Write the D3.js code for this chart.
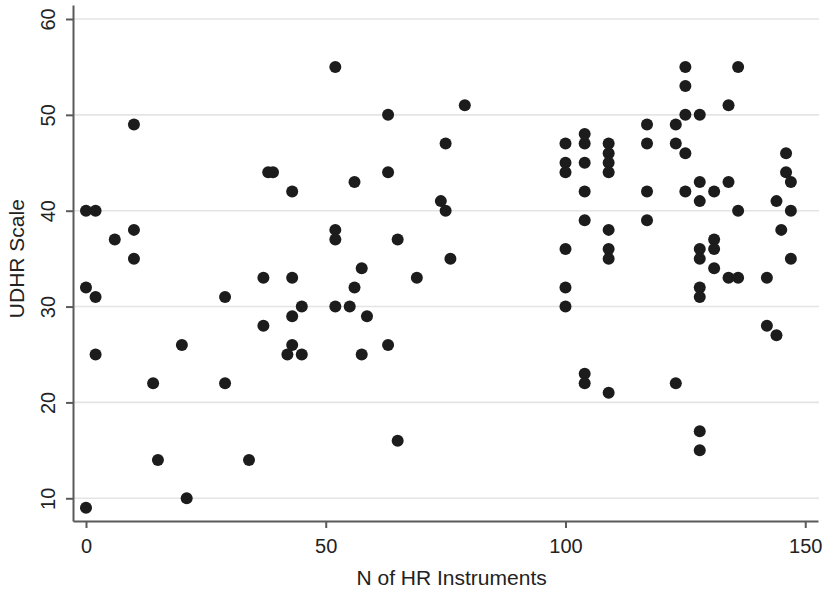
<!DOCTYPE html>
<html>
<head>
<meta charset="utf-8">
<script src="https://cdn.jsdelivr.net/npm/d3@7"></script>
<style>
  html, body { margin: 0; padding: 0; background: #fff; }
  svg { display: block; }
  text { font-family: "Liberation Sans", Arial, sans-serif; fill: #222; }
</style>
</head>
<body>
<script>
// N of HR Instruments (x) and UDHR Scale (y)
const hrInstruments = [
  0, 2, 10, 6, 10, 10, 0, 2, 2, 0,
  14, 15, 20, 21, 29, 29, 34,
  37, 37, 38, 39, 43, 43, 43, 43, 42, 45, 45,
  52, 52, 52, 52, 55, 56, 56, 57.5, 58.6, 57.5,
  63, 63, 63, 65, 65, 69, 74, 75, 75, 76, 79,
  100, 100, 100, 100, 100, 100,
  104, 104, 104, 104, 104, 104, 104,
  109, 109, 109, 109, 109, 109, 109, 109,
  117, 117, 117, 117,
  123, 123, 123,
  125, 125, 125, 125, 125,
  128, 128, 128, 128, 128, 128, 128, 128, 128,
  131, 131, 131, 131,
  134, 134, 134,
  136, 136, 136,
  142, 142, 144, 144, 145, 146, 146, 147, 147, 147
];
const udhrScale = [
  40, 40, 49, 37, 38, 35, 32, 31, 25, 9,
  22, 14, 26, 10, 31, 22, 14,
  33, 28, 44, 44, 42, 33, 29, 26, 25, 25, 30,
  55, 38, 37, 30, 30, 43, 32, 34, 29, 25,
  50, 44, 26, 37, 16, 33, 41, 40, 47, 35, 51,
  47, 45, 44, 36, 32, 30,
  48, 47, 45, 42, 39, 23, 22,
  47, 46, 45, 44, 38, 36, 35, 21,
  49, 47, 42, 39,
  49, 47, 22,
  55, 53, 50, 46, 42,
  50, 43, 41, 36, 35, 32, 31, 17, 15,
  42, 37, 36, 34,
  51, 43, 33,
  55, 40, 33,
  33, 28, 41, 27, 38, 46, 44, 43, 40, 35
];
const xTicks = [0, 50, 100, 150];
const yTicks = [10, 20, 30, 40, 50, 60];
const xTitle = "N of HR Instruments";
const yTitle = "UDHR Scale";

const W = 826, H = 590;
const svg = d3.select("body").append("svg").attr("width", W).attr("height", H);

const x = d3.scaleLinear().domain([-2.71, 152.66]).range([73, 818]);
const y = d3.scaleLinear().domain([7.63, 61.46]).range([521, 5]);

// gridlines
svg.append("g").selectAll("line").data(yTicks).join("line")
  .attr("x1", 73).attr("x2", 819)
  .attr("y1", d => y(d)).attr("y2", d => y(d))
  .attr("stroke", "#e4e4e4").attr("stroke-width", 1.6);

// points
const pts = hrInstruments.map((v, i) => ({x: v, y: udhrScale[i]}));
svg.append("g").selectAll("circle").data(pts).join("circle")
  .attr("cx", d => x(d.x)).attr("cy", d => y(d.y)).attr("r", 6)
  .attr("fill", "#1c1c1c");

// y axis
const yAxis = svg.append("g").attr("transform", "translate(73,0)")
  .call(d3.axisLeft(y).tickValues(yTicks).tickSize(7).tickSizeOuter(0).tickFormat(d3.format("d")));
yAxis.select(".domain").attr("stroke", "#5a5a5a").attr("stroke-width", 2);
yAxis.selectAll(".tick line").attr("stroke", "#5a5a5a").attr("stroke-width", 2);
yAxis.selectAll(".tick text")
  .attr("x", null).attr("dy", null)
  .attr("transform", "translate(-18,0) rotate(-90)")
  .attr("text-anchor", "middle")
  .style("font-size", "20px")
  .style("font-family", "'Liberation Sans', Arial, sans-serif")
  .attr("fill", "#222");

// x axis
const xAxis = svg.append("g").attr("transform", "translate(0,521)")
  .call(d3.axisBottom(x).tickValues(xTicks).tickSize(7).tickSizeOuter(0).tickFormat(d3.format("d")));
xAxis.select(".domain").attr("stroke", "#5a5a5a").attr("stroke-width", 2);
xAxis.selectAll(".tick line").attr("stroke", "#5a5a5a").attr("stroke-width", 2);
xAxis.selectAll(".tick text")
  .attr("y", 32).attr("dy", null)
  .style("font-size", "20px")
  .style("font-family", "'Liberation Sans', Arial, sans-serif")
  .attr("fill", "#222");

// titles
svg.append("text")
  .attr("x", (x(0) + x(150)) / 2 + 6).attr("y", 585)
  .attr("text-anchor", "middle").style("font-size", "21px")
  .text(xTitle);
svg.append("text")
  .attr("transform", `translate(24,${(y(10) + y(60)) / 2}) rotate(-90)`)
  .attr("text-anchor", "middle").style("font-size", "21px")
  .text(yTitle);
</script>
</body>
</html>
